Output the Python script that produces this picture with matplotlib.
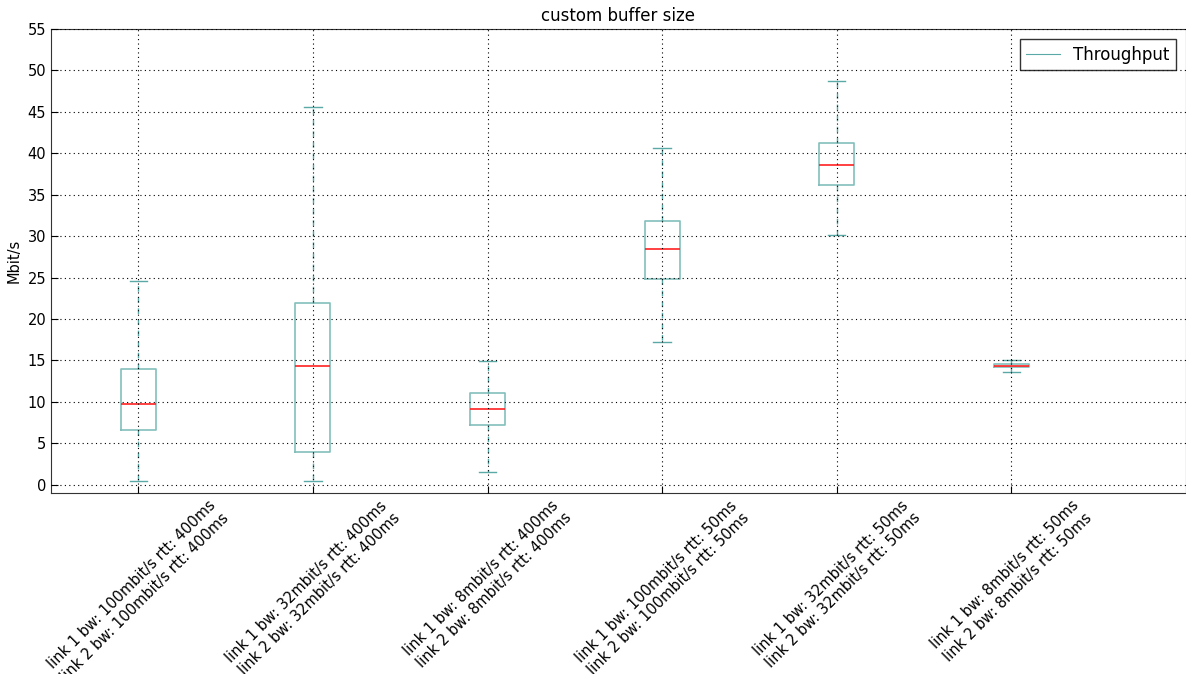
import matplotlib
matplotlib.use("Agg")
import matplotlib.pyplot as plt

plt.rcParams["font.family"] = ["DejaVu Sans"]

categories = [
    "link 1 bw: 100mbit/s rtt: 400ms\nlink 2 bw: 100mbit/s rtt: 400ms",
    "link 1 bw: 32mbit/s rtt: 400ms\nlink 2 bw: 32mbit/s rtt: 400ms",
    "link 1 bw: 8mbit/s rtt: 400ms\nlink 2 bw: 8mbit/s rtt: 400ms",
    "link 1 bw: 100mbit/s rtt: 50ms\nlink 2 bw: 100mbit/s rtt: 50ms",
    "link 1 bw: 32mbit/s rtt: 50ms\nlink 2 bw: 32mbit/s rtt: 50ms",
    "link 1 bw: 8mbit/s rtt: 50ms\nlink 2 bw: 8mbit/s rtt: 50ms",
]
whislo = [0.5, 0.4, 1.5, 17.2, 30.15, 13.6]
q1 = [6.6, 4.0, 7.2, 24.85, 36.2, 14.15]
med = [9.8, 14.3, 9.2, 28.5, 38.6, 14.35]
q3 = [14.0, 21.9, 11.1, 31.8, 41.3, 14.55]
whishi = [24.6, 45.6, 14.9, 40.6, 48.7, 15.1]

stats = [dict(whislo=a, q1=b, med=c, q3=d, whishi=e, fliers=[], label=l)
         for a, b, c, d, e, l in zip(whislo, q1, med, q3, whishi, categories)]

color = "#5aa9a6"
fig = plt.figure(figsize=(11.86, 6.74), dpi=100)
ax = fig.add_axes([0.043, 0.2685, 0.957, 0.6885])

ax.bxp(stats, positions=range(1, 7), widths=0.2, showfliers=False,
       boxprops=dict(color=color, alpha=0.75, linewidth=1.2),
       whiskerprops=dict(color=color, linestyle=(0, (4, 4)), linewidth=1.0),
       capprops=dict(color=color, linewidth=1.0),
       medianprops=dict(color="#ff2020", linewidth=1.2))

ax.set_xlim(0.5, 7.0)
ax.set_ylim(-1, 55)
ax.set_yticks(range(0, 56, 5))
ax.set_xticks(range(1, 7))
ax.set_xticklabels(categories, rotation=45, ha="center", fontsize=10.5)
ax.tick_params(axis="y", labelsize=10.5)
ax.tick_params(direction="in", length=5, top=False, right=False)
ax.grid(True, color="black", linestyle=(0, (1, 3)), linewidth=0.8)
ax.set_axisbelow(False)
ax.set_ylabel("Mbit/s", fontsize=10.5)
ax.set_title("custom buffer size", fontsize=12)
for s in ax.spines.values():
    s.set_color("#333333")

ax.plot([], [], color=color, linewidth=0.8, label="Throughput")
leg = ax.legend(loc="upper right", fontsize=12, fancybox=False, handlelength=2.0,
                borderaxespad=0.6)
leg.get_frame().set_edgecolor("black")

fig.savefig("out.png", dpi=100, facecolor="white")
